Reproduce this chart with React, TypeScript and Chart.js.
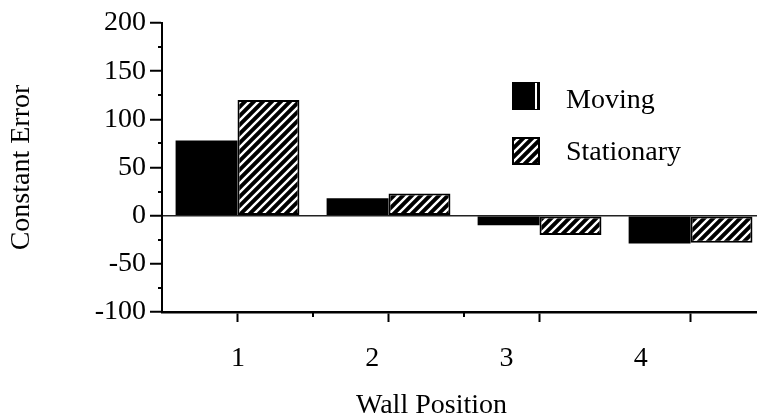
import React, { useEffect, useRef } from 'react';
import { Chart, registerables } from 'chart.js';

Chart.register(...registerables);

// ---- data ----
const categories = [1, 2, 3, 4];
const tickLabels = ['1', '2', '3', '4'];
const seriesNames = ['Moving', 'Stationary'];
const moving = [78, 18, -10, -29];
const stationary = [120, 23, -20, -28];
const yMin = -100;
const yMax = 200;
const yMajorStep = 50;
const yMinorTicks = [-75, -25, 25, 75, 125, 175];
const xMinorTicks = [1.5, 2.5];

const FONT = '"Liberation Serif", "Times New Roman", serif';

function makeHatch(ctx: CanvasRenderingContext2D) {
  const s = 9;
  const c = document.createElement('canvas');
  c.width = s;
  c.height = s;
  const g = c.getContext('2d')!;
  g.fillStyle = '#000';
  g.fillRect(0, 0, s, s);
  g.strokeStyle = '#fff';
  g.lineWidth = 2.4;
  g.beginPath();
  g.moveTo(-2, s + 2);
  g.lineTo(s + 2, -2);
  g.moveTo(-2, 2);
  g.lineTo(2, -2);
  g.moveTo(s - 2, s + 2);
  g.lineTo(s + 2, s - 2);
  g.stroke();
  return ctx.createPattern(c, 'repeat') as CanvasPattern;
}

export default function App() {
  const ref = useRef<HTMLCanvasElement | null>(null);

  useEffect(() => {
    const canvas = ref.current!;
    const ctx = canvas.getContext('2d')!;
    const hatch = makeHatch(ctx);

    const minorTicksPlugin = {
      id: 'minorTicks',
      afterDraw(chart: any) {
        const c = chart.ctx;
        const ys = chart.scales.y;
        const xs = chart.scales.x;
        c.save();
        c.strokeStyle = '#000';
        c.lineWidth = 2;
        c.beginPath();
        yMinorTicks.forEach((v) => {
          const py = Math.round(ys.getPixelForValue(v));
          c.moveTo(ys.right - 4, py);
          c.lineTo(ys.right, py);
        });
        xMinorTicks.forEach((v) => {
          const px = Math.round(xs.getPixelForValue(v));
          c.moveTo(px, xs.top);
          c.lineTo(px, xs.top + 5);
        });
        c.stroke();
        c.restore();
      },
    };

    const legendPlugin = {
      id: 'customLegend',
      afterDraw(chart: any) {
        const c = chart.ctx;
        const a = chart.chartArea;
        const ix = a.left + 350;
        const tx = a.left + 404;
        const size = 28;
        c.save();
        // Moving
        const y1 = a.top + 59;
        c.fillStyle = '#000';
        c.fillRect(ix, y1, size, size);
        c.fillStyle = '#fff';
        c.fillRect(ix + 23, y1 + 1, 2, size - 2);
        // Stationary
        const y2 = a.top + 114;
        c.fillStyle = hatch;
        c.fillRect(ix, y2, size, size);
        c.strokeStyle = '#000';
        c.lineWidth = 2;
        c.strokeRect(ix + 1, y2 + 1, size - 2, size - 2);
        c.fillStyle = '#000';
        c.font = '28px ' + FONT;
        c.textBaseline = 'alphabetic';
        c.textAlign = 'left';
        c.fillText(seriesNames[0], tx, y1 + 26);
        c.fillText(seriesNames[1], tx, y2 + 23);
        c.restore();
      },
    };

    const chart = new Chart(ctx, {
      type: 'bar',
      data: {
        datasets: [
          {
            label: seriesNames[0],
            data: categories.map((c, i) => ({ x: c, y: moving[i] })),
            backgroundColor: '#000',
            borderColor: '#000',
            borderWidth: 0,
          },
          {
            label: seriesNames[1],
            data: categories.map((c, i) => ({ x: c, y: stationary[i] })),
            backgroundColor: hatch,
            borderColor: '#000',
            borderWidth: 2,
            borderSkipped: false,
          },
        ],
      },
      options: {
        responsive: false,
        animation: false,
        events: [],
        categoryPercentage: 0.82,
        barPercentage: 1.0,
        layout: { padding: { top: 23, right: 0, left: 0, bottom: 0 } },
        plugins: {
          legend: { display: false },
          tooltip: { enabled: false },
        },
        scales: {
          x: {
            type: 'linear',
            position: 'bottom',
            weight: 0,
            min: 0.5,
            max: 4.44,
            offset: false,
            ticks: { display: false, stepSize: 1, includeBounds: false },
            grid: {
              offset: false,
              drawOnChartArea: false,
              drawTicks: true,
              tickLength: 10,
              tickColor: '#000',
              tickWidth: 2,
            },
            border: { display: true, color: '#000', width: 2.5 },
            afterFit: (s: any) => {
              s.height = 10;
            },
          },
          xl: {
            type: 'linear',
            position: 'bottom',
            weight: 1,
            min: 0.434,
            max: 4.865,
            offset: false,
            ticks: {
              stepSize: 1,
              includeBounds: false,
              padding: 20,
              color: '#000',
              font: { size: 28, family: FONT },
              callback: (v: any) => tickLabels[categories.indexOf(Number(v))] ?? '',
            },
            grid: { display: false, drawTicks: false, offset: false },
            border: { display: false },
            title: {
              display: true,
              text: 'Wall Position        ',
              color: '#000',
              font: { size: 28, family: FONT, lineHeight: 1 },
              padding: { top: 0, bottom: -3 },
            },
            afterFit: (s: any) => {
              s.height = 95;
            },
          },
          y: {
            type: 'linear',
            min: yMin,
            max: yMax,
            ticks: {
              stepSize: yMajorStep,
              padding: 4,
              color: '#000',
              font: { size: 28, family: FONT },
            },
            grid: {
              drawOnChartArea: true,
              color: (c: any) => (c.tick && c.tick.value === 0 ? '#222' : 'rgba(0,0,0,0)'),
              lineWidth: 1.5,
              tickLength: 12,
              tickColor: '#000',
              tickWidth: 2,
            },
            border: { display: true, color: '#000', width: 2 },
            title: {
              display: true,
              text: 'Constant Error',
              color: '#000',
              font: { size: 28, family: FONT },
              padding: { top: 5, bottom: 0 },
            },
            afterFit: (s: any) => {
              s.width = 162;
            },
          },
        },
      } as any,
      plugins: [minorTicksPlugin, legendPlugin],
    });
    return () => chart.destroy();
  }, []);

  return (
    <div style={{ position: 'fixed', left: 0, top: 0, width: 757, height: 417, background: '#fff' }}>
      <canvas ref={ref} width={757} height={417} style={{ display: 'block' }} />
    </div>
  );
}
